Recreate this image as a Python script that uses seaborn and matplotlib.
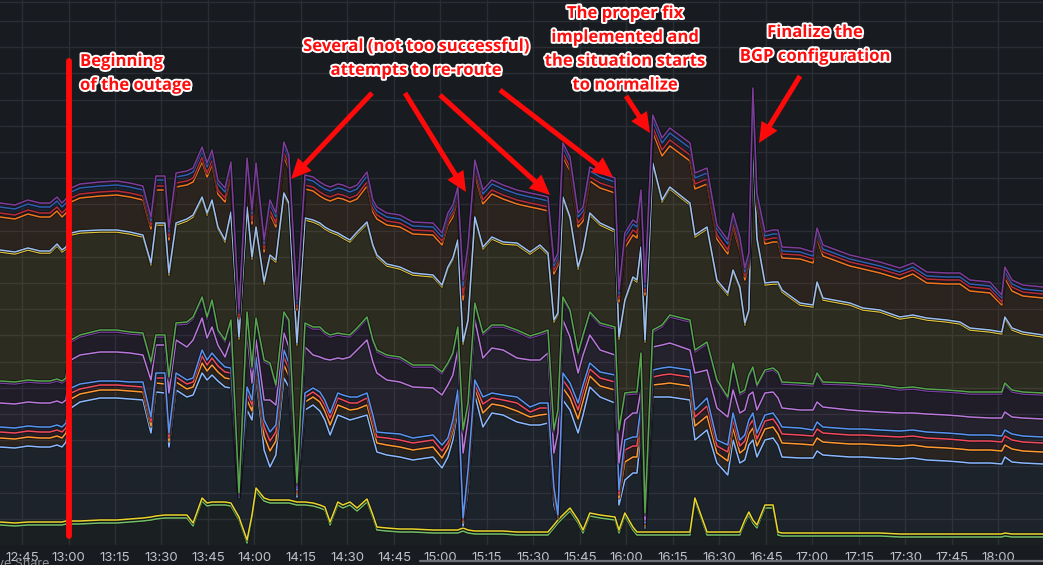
import numpy as np
import pandas as pd
import matplotlib
matplotlib.use("Agg")
import matplotlib.pyplot as plt
import matplotlib.dates as mdates
import matplotlib.patheffects as pe
from matplotlib.patches import FancyArrowPatch
from matplotlib.lines import Line2D
import seaborn as sns

# ---------------- data (stacked traffic per upstream, arbitrary units) ----------------
minutes_after_noon = [
    37.9, 42.7, 46.9, 50.8, 54.0, 56.3, 57.9, 59.2, 60.8, 63.7,
    70.2, 75.6, 79.8, 84.0, 86.6, 88.2, 91.1, 92.4, 94.7, 98.2,
    100.2, 103.1, 104.7, 106.3, 108.2, 110.5, 112.4, 115.0, 117.6, 119.2,
    120.5, 123.1, 125.0, 126.9, 129.5, 131.1, 133.7, 136.3, 138.9, 141.1,
    142.7, 144.4, 146.9, 148.5, 150.8, 153.1, 156.3, 158.2, 159.5, 162.7,
    166.9, 171.1, 177.6, 180.5, 182.4, 184.0, 185.6, 187.3, 188.9, 191.1,
    193.7, 196.6, 200.2, 204.7, 208.9, 212.1, 214.7, 216.6, 217.9, 219.5,
    221.8, 224.4, 226.0, 228.2, 231.5, 236.3, 237.6, 239.5, 242.1, 243.4,
    244.7, 246.0, 248.5, 251.5, 254.0, 260.5, 262.1, 266.0, 269.2, 272.7,
    274.4, 276.6, 278.2, 279.5, 280.8, 282.1, 284.7, 287.3, 288.9, 290.2,
    296.0, 300.2, 301.5, 303.4, 312.1, 316.3, 321.8, 328.2, 332.4, 336.9,
    343.4, 347.6, 350.8, 357.3, 361.1, 362.1, 364.4, 367.9, 374.4,
]

s01_green = [
    20, 19, 20, 20, 20, 20, 20, 21, 21, 21,
    22, 22, 23, 24, 25, 26, 27, 27, 27, 27,
    19, 44, 39, 40, 40, 40, 39, 25, 2, 27,
    54, 44, 42, 42, 42, 42, 40, 40, 39, 37,
    35, 20, 40, 37, 40, 34, 43, 27, 15, 14,
    13, 13, 12, 12, 12, 12, 12, 14, 12, 11,
    11, 11, 11, 10, 10, 10, 10, 17, 22, 27,
    34, 22, 12, 29, 27, 25, 12, 29, 15, 10,
    10, 10, 10, 10, 10, 10, 44, 10, 10, 10,
    10, 10, 22, 30, 22, 17, 37, 37, 10, 9,
    9, 9, 9, 9, 9, 9, 9, 8, 8, 8,
    8, 8, 8, 8, 8, 9, 8, 8, 8,
]
s02_yellow = [
    3, 3, 3, 3, 3, 3, 3, 3, 3, 3,
    3, 3, 3, 3, 3, 3, 3, 3, 3, 3,
    3, 3, 3, 3, 3, 3, 3, 3, 3, 3,
    3, 3, 3, 3, 3, 3, 3, 3, 3, 3,
    3, 3, 3, 3, 3, 3, 3, 3, 3, 3,
    3, 3, 3, 3, 3, 3, 3, 3, 3, 3,
    3, 3, 3, 3, 3, 3, 3, 3, 3, 3,
    3, 3, 3, 3, 3, 3, 3, 3, 3, 3,
    3, 3, 3, 3, 3, 3, 3, 3, 3, 3,
    3, 3, 3, 3, 3, 3, 3, 3, 3, 3,
    3, 3, 3, 3, 3, 3, 3, 3, 3, 3,
    3, 3, 3, 3, 3, 3, 3, 3, 3,
]
s03_lightblue = [
    75, 75, 76, 75, 75, 77, 75, 79, 113, 119,
    122, 122, 120, 118, 84, 124, 122, 68, 125, 118,
    128, 125, 123, 127, 121, 115, 115, 19, 130, 95,
    111, 48, 33, 45, 122, 113, 5, 92, 98, 94,
    87, 87, 87, 88, 82, 90, 84, 78, 75, 73,
    72, 69, 73, 62, 73, 90, 120, 2, 40, 136,
    104, 118, 116, 110, 107, 107, 109, 20, 2, 115,
    98, 87, 115, 126, 118, 114, 25, 33, 54, 59,
    99, 4, 135, 135, 135, 132, 58, 102, 69, 57,
    92, 69, 60, 67, 80, 68, 65, 67, 87, 76,
    75, 75, 82, 78, 76, 76, 75, 75, 76, 74,
    73, 72, 71, 71, 70, 76, 72, 71, 70,
]
s04_orange = [
    9, 9, 9, 9, 9, 9, 9, 9, 9, 8,
    8, 8, 8, 8, 7, 9, 9, 6, 8, 8,
    8, 10, 9, 10, 9, 9, 9, 1, 10, 9,
    9, 14, 16, 14, 13, 11, 3, 8, 8, 9,
    9, 10, 10, 10, 10, 9, 10, 10, 9, 10,
    10, 10, 10, 10, 9, 9, 9, 4, 9, 7,
    14, 9, 9, 11, 8, 10, 9, 8, 1, 12,
    12, 14, 14, 11, 11, 13, 7, 18, 16, 16,
    12, 2, 12, 13, 14, 14, 14, 14, 10, 14,
    12, 10, 11, 11, 12, 11, 11, 11, 11, 14,
    14, 13, 13, 13, 13, 13, 13, 13, 13, 13,
    13, 13, 13, 13, 13, 12, 13, 12, 12,
]
s05_red = [
    6, 6, 6, 6, 6, 6, 6, 5, 6, 5,
    5, 5, 5, 5, 5, 5, 6, 4, 5, 5,
    5, 7, 6, 7, 6, 6, 6, 0, 7, 6,
    6, 9, 10, 9, 8, 7, 2, 5, 5, 5,
    6, 7, 7, 7, 7, 6, 7, 7, 6, 7,
    7, 7, 7, 7, 5, 6, 6, 2, 6, 4,
    9, 6, 6, 8, 5, 7, 6, 5, 1, 8,
    8, 9, 9, 7, 8, 8, 4, 12, 11, 11,
    8, 2, 8, 9, 9, 9, 9, 10, 7, 9,
    8, 7, 8, 8, 8, 7, 8, 8, 8, 9,
    9, 9, 9, 9, 9, 9, 9, 9, 9, 9,
    9, 9, 9, 9, 9, 9, 9, 9, 9,
]
s06_blue = [
    5, 5, 5, 5, 5, 5, 5, 5, 5, 5,
    4, 4, 4, 5, 4, 5, 5, 4, 4, 4,
    4, 6, 5, 5, 6, 5, 5, 0, 6, 5,
    5, 7, 9, 7, 7, 6, 2, 4, 4, 5,
    5, 5, 5, 5, 6, 6, 5, 5, 5, 5,
    6, 5, 5, 6, 5, 5, 5, 2, 5, 4,
    7, 5, 5, 6, 5, 5, 5, 5, 1, 7,
    7, 7, 7, 6, 6, 7, 4, 10, 9, 9,
    6, 1, 7, 7, 7, 7, 7, 8, 6, 7,
    7, 6, 6, 6, 7, 6, 6, 6, 6, 7,
    7, 6, 7, 6, 6, 6, 6, 6, 6, 6,
    6, 6, 6, 6, 6, 6, 6, 6, 6,
]
s07_purple = [
    24, 24, 24, 24, 24, 24, 24, 23, 28, 29,
    29, 29, 29, 27, 37, 28, 28, 40, 33, 33,
    38, 32, 22, 26, 15, 10, 28, 2, 54, 17,
    17, 20, 32, 20, 17, 16, 3, 46, 33, 35,
    41, 53, 35, 36, 40, 47, 53, 53, 59, 53,
    52, 51, 47, 50, 53, 45, 40, 65, 50, 60,
    39, 45, 45, 39, 47, 43, 50, 34, 82, 53,
    46, 30, 30, 28, 22, 20, 27, 20, 24, 24,
    17, 3, 23, 23, 24, 20, 37, 28, 32, 28,
    23, 27, 25, 25, 21, 23, 22, 21, 22, 19,
    18, 20, 20, 20, 19, 18, 18, 18, 17, 18,
    18, 18, 18, 17, 18, 18, 17, 18, 18,
]
s08_darkpurple = [
    20, 20, 20, 20, 20, 20, 20, 20, 18, 18,
    20, 20, 19, 20, 16, 8, 8, 14, 15, 23,
    21, 19, 19, 25, 13, 15, 18, 0, 19, 14,
    20, 38, 35, 18, 19, 25, 2, 22, 26, 28,
    25, 23, 23, 23, 20, 20, 21, 20, 21, 23,
    23, 20, 21, 21, 20, 20, 21, 21, 15, 15,
    23, 21, 23, 26, 22, 25, 21, 21, 21, 21,
    25, 18, 18, 21, 25, 26, 31, 25, 19, 19,
    35, 5, 15, 18, 26, 28, 21, 26, 26, 18,
    25, 18, 18, 18, 23, 23, 21, 22, 24, 24,
    25, 24, 27, 23, 25, 25, 25, 23, 24, 23,
    23, 23, 23, 24, 24, 27, 25, 24, 24,
]
s09_green = [
    2, 2, 2, 2, 2, 2, 2, 2, 2, 2,
    2, 2, 2, 2, 2, 2, 2, 2, 2, 2,
    2, 2, 2, 2, 2, 2, 2, 2, 2, 2,
    2, 2, 2, 2, 2, 2, 2, 2, 2, 2,
    2, 2, 2, 2, 2, 2, 2, 2, 2, 2,
    2, 2, 2, 2, 2, 2, 2, 2, 2, 2,
    2, 2, 2, 2, 2, 2, 2, 2, 2, 2,
    2, 2, 2, 2, 2, 2, 2, 2, 2, 2,
    2, 2, 2, 2, 2, 2, 2, 2, 2, 2,
    2, 2, 2, 2, 2, 2, 2, 2, 2, 2,
    2, 2, 2, 2, 2, 2, 2, 2, 2, 2,
    2, 2, 2, 2, 2, 2, 2, 2, 2,
]
s10_yellow = [
    129, 128, 130, 128, 128, 133, 129, 129, 105, 102,
    98, 98, 98, 96, 97, 110, 110, 102, 98, 101,
    100, 98, 102, 98, 101, 98, 106, 154, 103, 108,
    89, 76, 106, 123, 117, 115, 138, 103, 105, 102,
    103, 103, 98, 96, 93, 94, 93, 93, 93, 89,
    88, 90, 88, 85, 94, 93, 85, 86, 81, 84,
    84, 86, 81, 85, 82, 86, 75, 108, 95, 98,
    91, 84, 83, 97, 98, 95, 91, 91, 113, 110,
    104, 171, 165, 123, 126, 115, 113, 113, 98, 102,
    91, 104, 65, 63, 225, 145, 85, 84, 88, 90,
    78, 77, 89, 82, 78, 74, 73, 69, 70, 69,
    68, 67, 62, 60, 58, 64, 60, 58, 56,
]
s11_lightblue = [
    2, 2, 2, 2, 2, 2, 2, 2, 2, 2,
    2, 2, 2, 2, 2, 2, 2, 2, 2, 2,
    2, 2, 2, 2, 2, 2, 2, 2, 2, 2,
    2, 2, 2, 2, 2, 2, 2, 2, 2, 2,
    2, 2, 2, 2, 2, 2, 2, 2, 2, 2,
    2, 2, 2, 2, 2, 2, 2, 2, 2, 2,
    2, 2, 2, 2, 2, 2, 2, 2, 2, 2,
    2, 2, 2, 2, 2, 2, 2, 2, 2, 2,
    2, 2, 2, 2, 2, 2, 2, 2, 2, 2,
    2, 2, 2, 2, 2, 2, 2, 2, 2, 2,
    2, 2, 2, 2, 2, 2, 2, 2, 2, 2,
    2, 2, 2, 2, 2, 2, 2, 2, 2,
]
s12_darkorange = [
    33, 33, 34, 34, 34, 33, 33, 34, 31, 33,
    34, 35, 35, 35, 34, 33, 33, 33, 36, 34,
    33, 35, 36, 35, 33, 38, 36, 19, 35, 33,
    50, 30, 41, 33, 36, 34, 33, 29, 29, 27,
    28, 29, 35, 37, 38, 33, 36, 33, 36, 39,
    40, 39, 40, 40, 42, 41, 41, 42, 60, 42,
    43, 43, 43, 39, 45, 36, 42, 46, 48, 40,
    46, 40, 29, 32, 35, 37, 35, 52, 42, 42,
    42, 45, 31, 44, 41, 42, 46, 43, 41, 39,
    43, 36, 43, 45, 38, 33, 39, 40, 40, 32,
    44, 42, 43, 42, 37, 39, 37, 38, 41, 35,
    36, 38, 37, 37, 27, 39, 37, 36, 37,
]
s13_darkred = [
    4, 4, 4, 4, 4, 4, 4, 4, 4, 4,
    4, 4, 4, 4, 4, 4, 4, 4, 4, 4,
    4, 5, 4, 5, 4, 4, 4, 2, 4, 4,
    4, 4, 4, 4, 5, 4, 3, 4, 4, 4,
    4, 4, 4, 4, 4, 4, 4, 4, 4, 4,
    4, 4, 4, 4, 4, 4, 4, 6, 5, 5,
    4, 4, 4, 4, 4, 4, 4, 4, 4, 4,
    4, 4, 4, 4, 5, 5, 4, 5, 5, 5,
    5, 4, 5, 6, 6, 6, 5, 5, 4, 4,
    4, 4, 4, 4, 4, 4, 4, 4, 4, 4,
    4, 4, 4, 4, 4, 4, 4, 4, 4, 4,
    4, 4, 4, 4, 3, 4, 4, 4, 4,
]
s14_darkblue = [
    6, 6, 6, 6, 6, 6, 6, 6, 6, 6,
    6, 6, 6, 6, 4, 6, 6, 4, 6, 6,
    6, 6, 6, 6, 6, 6, 6, 4, 6, 6,
    6, 4, 6, 6, 6, 6, 4, 6, 6, 6,
    6, 6, 6, 6, 6, 6, 6, 4, 4, 4,
    4, 4, 4, 4, 4, 4, 4, 8, 6, 6,
    6, 6, 6, 6, 6, 6, 6, 4, 4, 6,
    6, 6, 6, 6, 6, 6, 4, 6, 6, 6,
    6, 4, 7, 7, 7, 7, 6, 6, 6, 6,
    6, 6, 4, 4, 6, 4, 4, 4, 4, 3,
    3, 3, 3, 3, 3, 3, 3, 3, 3, 3,
    3, 3, 3, 3, 4, 3, 3, 3, 3,
]
s15_darkpurple = [
    4, 4, 4, 4, 4, 4, 4, 4, 4, 4,
    4, 4, 4, 4, 4, 4, 4, 4, 4, 4,
    4, 4, 4, 4, 4, 4, 4, 2, 4, 4,
    4, 4, 4, 4, 4, 4, 3, 4, 4, 4,
    4, 4, 4, 4, 4, 4, 4, 4, 4, 4,
    4, 4, 4, 4, 4, 4, 4, 6, 4, 4,
    4, 4, 4, 4, 4, 4, 4, 4, 4, 4,
    4, 4, 4, 4, 4, 4, 4, 4, 4, 4,
    4, 4, 5, 5, 5, 5, 5, 5, 4, 4,
    4, 4, 4, 4, 4, 4, 4, 4, 4, 4,
    4, 4, 4, 4, 4, 4, 4, 4, 4, 4,
    4, 4, 4, 4, 3, 4, 4, 4, 4,
]

series_names = ["green", "yellow", "light-blue", "orange", "red", "blue", "purple",
                "dark-purple", "dark-green", "dark-yellow", "sky", "dark-orange",
                "dark-red", "dark-blue", "deep-purple"]
series_values = [s01_green, s02_yellow, s03_lightblue, s04_orange, s05_red, s06_blue,
                 s07_purple, s08_darkpurple, s09_green, s10_yellow, s11_lightblue,
                 s12_darkorange, s13_darkred, s14_darkblue, s15_darkpurple]
series_colors = ["#73BF69", "#EAD52E", "#8AB8FF", "#FF9830", "#F2495C", "#5794F2",
                 "#B877D9", "#7F3FA8", "#56A64B", "#E8C93A", "#9DBFEF", "#F0761E",
                 "#B82C36", "#2F5FB0", "#7D3C98"]
fill_alpha = [0.03, 0.05, 0.05, 0.08, 0.08, 0.08, 0.08, 0.08, 0.08, 0.1, 0.08, 0.09,
              0.09, 0.12, 0.12]

n = len(minutes_after_noon)
for name, vals in zip(series_names, series_values):
    assert len(vals) == n, (name, len(vals), n)

# ---------------- build frame ----------------
base = pd.Timestamp("2021-10-04 12:00:00")
times = base + pd.to_timedelta(minutes_after_noon, unit="m")
vals = np.array(series_values, dtype=float)
stacked = vals.cumsum(axis=0)
rows = []
for i, name in enumerate(series_names):
    rows.append(pd.DataFrame({"time": times, "stacked": stacked[i], "series": name}))
df = pd.concat(rows, ignore_index=True)

# ---------------- style ----------------
BG = "#181b1f"
sns.set_theme(style="dark")
plt.rcParams["font.family"] = ["Inter", "DejaVu Sans"]
plt.rcParams["axes.facecolor"] = BG
plt.rcParams["figure.facecolor"] = BG

W, H = 1043, 565
fig = plt.figure(figsize=(W / 100, H / 100), dpi=100)
ax = fig.add_axes([0, 20 / H, 1, 545 / H])
ax.set_facecolor(BG)

# fills
prev = np.zeros(n)
for i, name in enumerate(series_names):
    ax.fill_between(times, prev, stacked[i], color=series_colors[i],
                    alpha=fill_alpha[i], linewidth=0, zorder=1)
    prev = stacked[i]

sns.lineplot(data=df, x="time", y="stacked", hue="series", hue_order=series_names,
             palette=dict(zip(series_names, series_colors)), estimator=None,
             sort=False, legend=False, linewidth=1.1, ax=ax, zorder=3)
for ln in ax.lines:
    ln.set_path_effects([pe.Stroke(linewidth=2.4, foreground="#0e0f12", alpha=0.7), pe.Normal()])

ax.set_xlim(base + pd.Timedelta(minutes=37.9), base + pd.Timedelta(minutes=374.4))
ax.set_ylim(0, 545)
ax.set_yticks(np.arange(1, 21) * 26.2)
ax.yaxis.set_ticklabels([])
ax.xaxis.set_major_locator(mdates.MinuteLocator(byminute=[0, 15, 30, 45]))
ax.xaxis.set_major_formatter(mdates.DateFormatter("%H:%M"))
ax.tick_params(axis="x", length=0, pad=5, labelsize=9.5, colors="#bfc2c8")
ax.tick_params(axis="y", length=0)
ax.grid(True, color="#2a2d33", linewidth=1)
ax.set_xlabel("")
ax.set_ylabel("")
for s in ax.spines.values():
    s.set_visible(False)

# ---------------- annotations (pixel helpers) ----------------
def fx(x):
    return x / W

def fy(y):
    return 1 - y / H

txt_kw = dict(color="#ff0d0d", fontsize=12, fontweight="bold", family=["Open Sans", "DejaVu Sans"],
              linespacing=1.42, va="top",
              path_effects=[pe.withStroke(linewidth=2.8, foreground="white")], zorder=10)
fig.text(fx(80), fy(52), "Beginning\nof the outage", ha="left", **txt_kw)
fig.text(fx(416), fy(37), "Several (not too successful)\nattempts to re-route", ha="center", **txt_kw)
fig.text(fx(625), fy(4), "The proper fix\nimplemented and\nthe situation starts\nto normalize", ha="center", **txt_kw)
fig.text(fx(815), fy(23), "Finalize the\nBGP configuration", ha="center", **txt_kw)

# outage marker
fig.add_artist(Line2D([fx(69), fx(69)], [fy(61), fy(536)], lw=4.2, color="#ff0a0a",
                      solid_capstyle="round", transform=fig.transFigure, zorder=9))

arrows = [((372, 93), (291, 179)), ((405, 93), (466, 192)), ((440, 95), (550, 195)),
          ((500, 90), (613, 177)), ((626, 96), (650, 133)), ((800, 76), (759, 143))]
for (x0, y0), (x1, y1) in arrows:
    fig.add_artist(FancyArrowPatch((fx(x0), fy(y0)), (fx(x1), fy(y1)), transform=fig.transFigure,
                                   arrowstyle="simple,head_length=1.45,head_width=1.35,tail_width=0.36",
                                   mutation_scale=10, color="#ff0a0a", lw=0, zorder=9,
                                   shrinkA=0, shrinkB=0))

# panel chrome
fig.add_artist(Line2D([0, 1], [fy(1.5), fy(1.5)], lw=1, color="#2b2e34", transform=fig.transFigure))
fig.add_artist(Line2D([fx(420), 1], [fy(561), fy(561)], lw=1.6, color="#6c6f75", transform=fig.transFigure))
fig.text(fx(-3), fy(558), "ve Share", color="#8e9097", fontsize=9, va="top", ha="left")

fig.savefig("out.png", dpi=100, facecolor=BG)
